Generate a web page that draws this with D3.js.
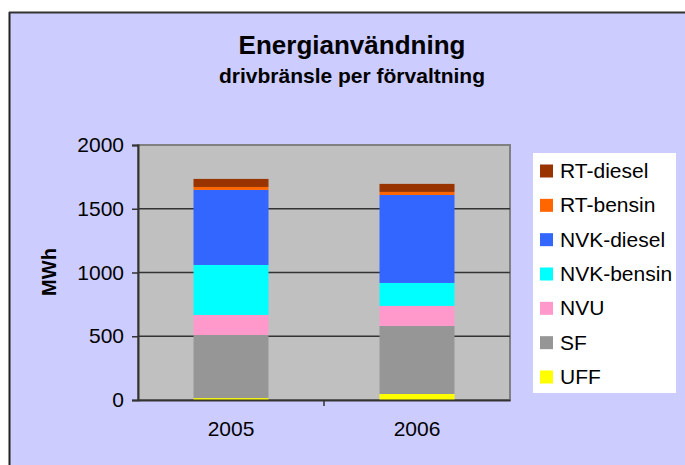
<!DOCTYPE html>
<html>
<head>
<meta charset="utf-8">
<script src="https://cdn.jsdelivr.net/npm/d3@7"></script>
<style>
  html, body { margin: 0; padding: 0; background: #ffffff; }
  svg { display: block; font-family: "Liberation Sans", Arial, sans-serif; }
</style>
</head>
<body>
<svg id="chart" width="685" height="465"></svg>
<script>
// ---- data ----
const categories = ["2005", "2006"];
const seriesNames = ["UFF", "SF", "NVU", "NVK-bensin", "NVK-diesel", "RT-bensin", "RT-diesel"];
const UFF        = [15, 47];
const SF         = [495, 534];
const NVU        = [157, 157];
const NVKbensin  = [392, 180];
const NVKdiesel  = [589, 690];
const RTbensin   = [23, 24];
const RTdiesel   = [63, 63];
const yTicks = [0, 500, 1000, 1500, 2000];
const titleText = "Energianvändning";
const subtitleText = "drivbränsle per förvaltning";
const yAxisTitle = "MWh";

const colors = {
  "UFF": "#FFFF00", "SF": "#969696", "NVU": "#FF99CC", "NVK-bensin": "#00FFFF",
  "NVK-diesel": "#3366FF", "RT-bensin": "#FF6600", "RT-diesel": "#993300"
};
const seriesValues = [UFF, SF, NVU, NVKbensin, NVKdiesel, RTbensin, RTdiesel];
const table = categories.map((c, i) => {
  const row = { cat: c };
  seriesNames.forEach((s, j) => row[s] = seriesValues[j][i]);
  return row;
});

const svg = d3.select("#chart");

// background & frame
svg.append("rect").attr("x", 9).attr("y", 12).attr("width", 690).attr("height", 460).attr("fill", "#CCCCFF");
svg.append("line").attr("x1", 9.5).attr("x2", 9.5).attr("y1", 12).attr("y2", 465).attr("stroke", "#222").attr("stroke-width", 2);
svg.append("line").attr("x1", 9).attr("x2", 685).attr("y1", 12.5).attr("y2", 12.5).attr("stroke", "#333").attr("stroke-width", 2);

// titles
svg.append("text").attr("x", 352).attr("y", 54).attr("text-anchor", "middle")
  .attr("font-size", 26).attr("font-weight", "bold").attr("fill", "#000").text(titleText);
svg.append("text").attr("x", 352).attr("y", 83).attr("text-anchor", "middle")
  .attr("font-size", 21).attr("font-weight", "bold").attr("fill", "#000").text(subtitleText);

// scales
const plot = { left: 138, right: 510, top: 145, bottom: 400 };
const x = d3.scaleBand().domain(categories).range([plot.left, plot.right]);
const y = d3.scaleLinear().domain([0, 2000]).range([plot.bottom, plot.top]);
const barW = 75;

// plot area
svg.append("rect").attr("x", plot.left).attr("y", plot.top)
  .attr("width", plot.right - plot.left).attr("height", plot.bottom - plot.top)
  .attr("fill", "#C0C0C0").attr("stroke", "#808080").attr("stroke-width", 2);

// gridlines
svg.append("g").selectAll("line").data(yTicks.filter(t => t > 0 && t < 2000)).join("line")
  .attr("x1", plot.left).attr("x2", plot.right)
  .attr("y1", d => y(d)).attr("y2", d => y(d))
  .attr("stroke", "#333").attr("stroke-width", 1.5);

// stacked bars
const stack = d3.stack().keys(seriesNames)(table);
svg.append("g").selectAll("g").data(stack).join("g")
  .attr("fill", d => colors[d.key])
  .selectAll("rect").data(d => d).join("rect")
  .attr("x", d => x(d.data.cat) + x.bandwidth() / 2 - barW / 2)
  .attr("width", barW)
  .attr("y", d => y(d[1]))
  .attr("height", d => y(d[0]) - y(d[1]));

// y axis
const yAxis = d3.axisLeft(y).tickValues(yTicks).tickSize(6).tickPadding(8).tickFormat(d3.format("d"));
const gy = svg.append("g").attr("transform", `translate(${plot.left},0)`).call(yAxis);
gy.select(".domain").attr("stroke", "#333").attr("stroke-width", 2);
gy.selectAll(".tick line").attr("stroke", "#333").attr("stroke-width", 1.5);
gy.selectAll(".tick text").attr("font-size", 21).attr("fill", "#000")
  .attr("font-family", "'Liberation Sans', Arial, sans-serif");

// x axis
const xAxis = d3.axisBottom(x).tickSize(0).tickPadding(21);
const gx = svg.append("g").attr("transform", `translate(0,${plot.bottom})`).call(xAxis);
gx.select(".domain").attr("stroke", "#333").attr("stroke-width", 2);
gx.selectAll(".tick text").attr("font-size", 21).attr("fill", "#000")
  .attr("font-family", "'Liberation Sans', Arial, sans-serif");
// category boundary ticks
svg.append("g").selectAll("line").data(categories.slice(1)).join("line")
  .attr("x1", d => x(d)).attr("x2", d => x(d))
  .attr("y1", plot.bottom).attr("y2", plot.bottom + 6)
  .attr("stroke", "#333").attr("stroke-width", 1.5);

// y axis title
svg.append("text").attr("transform", "translate(56,272) rotate(-90)")
  .attr("text-anchor", "middle").attr("font-size", 20).attr("font-weight", "bold")
  .attr("fill", "#000").text(yAxisTitle);

// legend
const legend = svg.append("g");
legend.append("rect").attr("x", 533).attr("y", 153).attr("width", 143).attr("height", 240).attr("fill", "#fff");
const legendOrder = seriesNames.slice().reverse();
const ly = d3.scalePoint().domain(legendOrder).range([171, 377]);
const items = legend.selectAll("g.item").data(legendOrder).join("g").attr("class", "item");
items.append("rect").attr("x", 540).attr("y", d => ly(d) - 6.5).attr("width", 13).attr("height", 13)
  .attr("fill", d => colors[d]);
items.append("text").attr("x", 560).attr("y", d => ly(d) + 7).attr("font-size", 21).attr("fill", "#000")
  .text(d => d);
</script>
</body>
</html>
